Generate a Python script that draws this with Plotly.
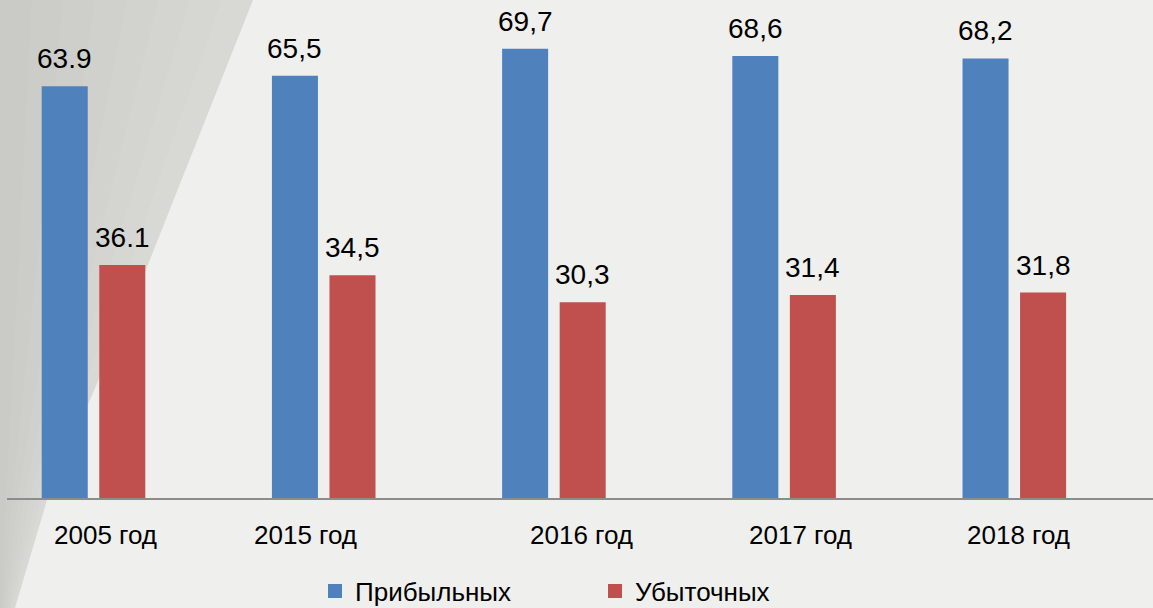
import plotly.graph_objects as go

categories = ["2005 год", "2015 год", "2016 год", "2017 год", "2018 год"]
profit = [63.9, 65.5, 69.7, 68.6, 68.2]
loss = [36.1, 34.5, 30.3, 31.4, 31.8]
profit_labels = ["63.9", "65,5", "69,7", "68,6", "68,2"]
loss_labels = ["36.1", "34,5", "30,3", "31,4", "31,8"]
series_names = ["Прибыльных", "Убыточных"]

BLUE = "#4f81bd"
RED = "#c0504d"
FONT = "Liberation Sans, Arial, sans-serif"

# per-label horizontal nudge of category captions (px), as in the source slide
cat_label_shift = [12, -18, 28, 16, 4]

fig = go.Figure()
fig.add_trace(go.Bar(x=categories, y=profit, name=series_names[0],
                     marker=dict(color=BLUE, line=dict(width=2, color=BLUE))))
fig.add_trace(go.Bar(x=categories, y=loss, name=series_names[1],
                     marker=dict(color=RED, line=dict(width=2, color=RED))))

W, H = 1153, 608
L, R, T, B = 7, 0, 0, 110
pw, ph = W - L - R, H - T - B

def px(x):
    return (x - L) / pw

def py(y):
    return (H - B - y) / ph

# background: grey left panel with a slanted edge, light sheet on the right
edge = [(253, 0), (147, 267), (47, 500), (15, 608)]
def poly(points):
    return "M " + " L ".join(f"{px(x):.5f},{py(y):.5f}" for x, y in points) + " Z"

shapes = []
band_colors = ["#d8d8d5", "#d6d6d3", "#d4d4d1", "#d2d2cf", "#d0d0cd",
               "#cececb", "#ccccc9", "#cacac7"]
n = len(band_colors)
for k, col in enumerate(band_colors):
    f = 1.0 - k / n
    pts = [(0, 0)] + [(x * f, y) for x, y in edge] + [(0, 608)]
    shapes.append(dict(type="path", xref="paper", yref="paper", layer="below",
                       path=poly(pts), fillcolor=col, line=dict(width=0)))

annotations = []
for i, c in enumerate(categories):
    annotations.append(dict(x=c, y=profit[i], xref="x", yref="y", text=profit_labels[i],
                            showarrow=False, xshift=-28.75, yshift=11, yanchor="bottom",
                            font=dict(family=FONT, size=28, color="#000000")))
    annotations.append(dict(x=c, y=loss[i], xref="x", yref="y", text=loss_labels[i],
                            showarrow=False, xshift=28.75, yshift=11, yanchor="bottom",
                            font=dict(family=FONT, size=28, color="#000000")))
    annotations.append(dict(x=c, y=0, xref="x", yref="y", text=c,
                            showarrow=False, xshift=cat_label_shift[i], yshift=-20,
                            yanchor="top",
                            font=dict(family=FONT, size=26, color="#000000")))

fig.update_layout(
    width=W, height=H,
    margin=dict(l=L, r=R, t=T, b=B, autoexpand=False),
    paper_bgcolor="#efefed",
    plot_bgcolor="rgba(0,0,0,0)",
    barmode="group",
    bargap=0.50,
    bargroupgap=0.235,
    shapes=shapes,
    annotations=annotations,
    showlegend=True,
    legend=dict(orientation="h", xref="container", x=315 / W, xanchor="left",
                yref="container", y=(H - 591) / H, yanchor="middle",
                font=dict(family=FONT, size=26, color="#000000"),
                bgcolor="rgba(0,0,0,0)", entrywidth=235, entrywidthmode="pixels",
                itemclick=False),
    xaxis=dict(range=[-0.3758, 4.6025], showticklabels=False, ticks="",
               showline=True, linecolor="#8c8c8c", linewidth=2,
               showgrid=False, zeroline=False, fixedrange=True),
    yaxis=dict(range=[0, 77.45], showticklabels=False, ticks="", showline=False,
               showgrid=False, zeroline=False, fixedrange=True),
)

fig.write_html("out.html", config={"displayModeBar": False},
               post_script="document.body.style.margin='0px';document.body.style.overflow='hidden';")
